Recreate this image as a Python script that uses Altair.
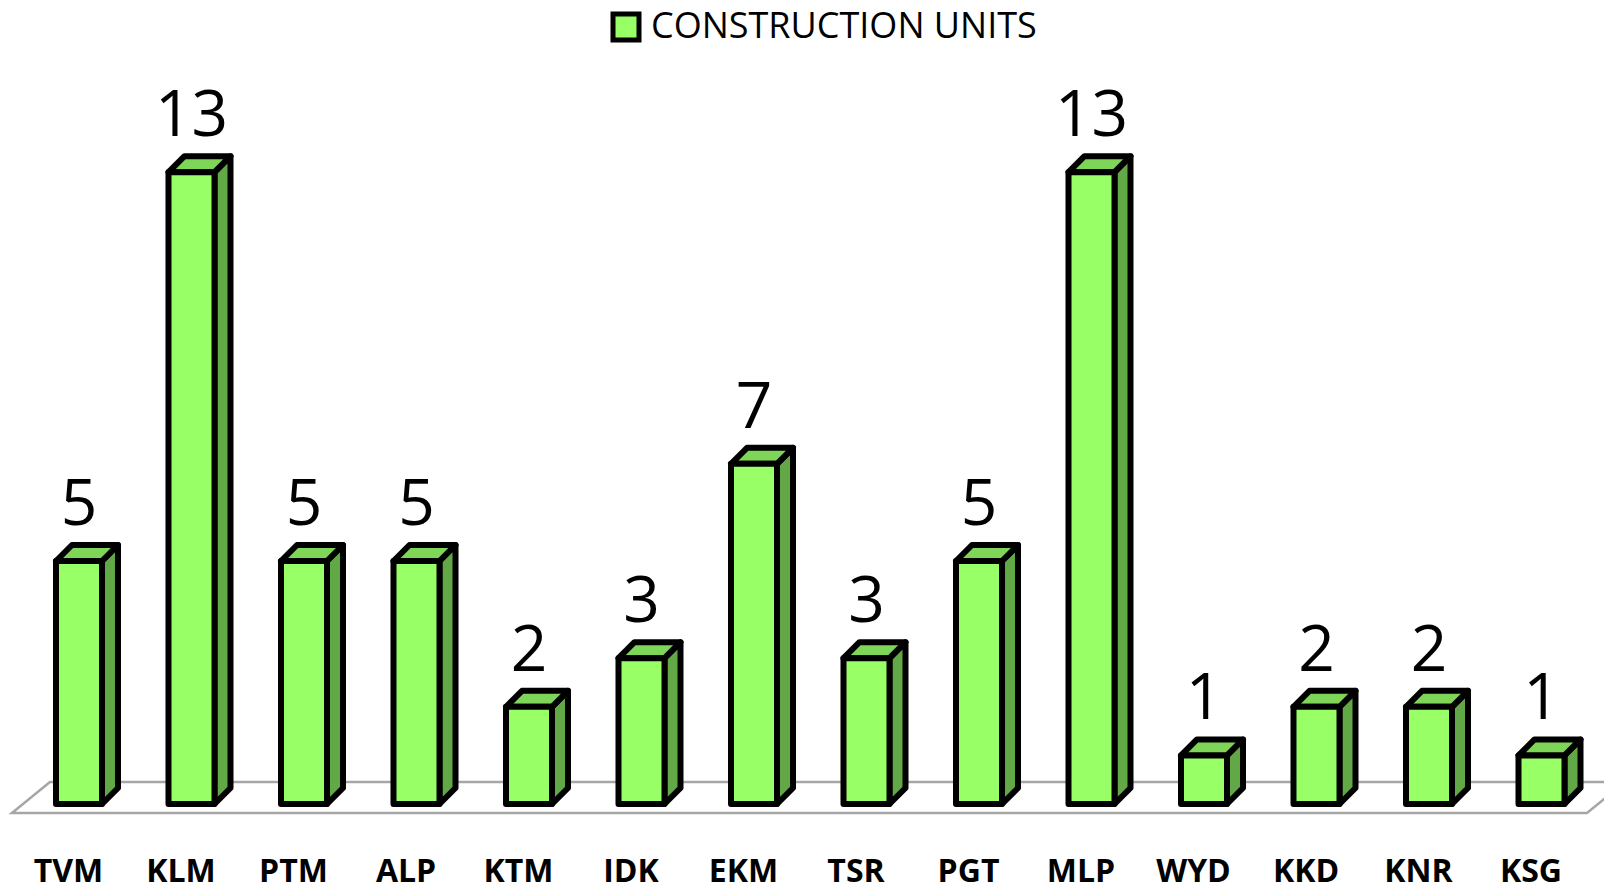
import altair as alt
import pandas as pd

# ---- data ----
categories = ["TVM", "KLM", "PTM", "ALP", "KTM", "IDK", "EKM", "TSR", "PGT", "MLP", "WYD", "KKD", "KNR", "KSG"]
values = [5, 13, 5, 5, 2, 3, 7, 3, 5, 13, 1, 2, 2, 1]
series_name = "CONSTRUCTION UNITS"

# ---- styling / geometry (pixels -> data units) ----
W, H = 1596, 878
PX_CAT = 112.5          # px per category step
PX_UNIT = 48.6          # px per value unit
X0_PX = 71              # plot-x of first category centre
Y0_PX = 796             # plot-y of value 0
n = len(categories)

x_dom = [-X0_PX / PX_CAT, (W - X0_PX) / PX_CAT]
y_dom = [-(H - Y0_PX) / PX_UNIT, Y0_PX / PX_UNIT]

half_w = 23 / PX_CAT
dx = 16 / PX_CAT
dy = 16 / PX_UNIT

FRONT = "#99FF66"
SIDE = "#62A846"
TOP = "#7FD557"
SW = 6

xs = alt.Scale(domain=x_dom, nice=False, zero=False)
ys = alt.Scale(domain=y_dom, nice=False, zero=False)

idx = list(range(n))
label_expr = "[" + ",".join("'%s'" % c for c in categories) + "][datum.value]"
x_axis = alt.Axis(
    values=idx, labelExpr=label_expr, domain=False, ticks=False, tickSize=0, grid=False,
    labelFontSize=32, labelFont="Open Sans", labelFontWeight="bold",
    labelColor="black", labelOffset=-11, labelPadding=-5,
    labelBaseline="alphabetic", labelFlush=False, labelOverlap=False, title=None,
)

front = pd.DataFrame({
    "cat": categories, "i": idx, "v": values, "series": [series_name] * n,
    "x": [i - half_w for i in idx], "x2": [i + half_w for i in idx],
    "y": [0] * n,
})

side_rows = []
top_rows = []
for i, (c, v) in enumerate(zip(categories, values)):
    side_rows.append({"cat": c, "x": i + half_w, "y": 0, "y2": v})
    side_rows.append({"cat": c, "x": i + half_w + dx, "y": dy, "y2": v + dy})
    top_rows.append({"cat": c, "y": v, "x": i - half_w, "x2": i + half_w})
    top_rows.append({"cat": c, "y": v + dy, "x": i - half_w + dx, "x2": i + half_w + dx})
side = pd.DataFrame(side_rows)
top = pd.DataFrame(top_rows)

# floor parallelogram
floor_front = -9 / PX_UNIT
floor_back = 22 / PX_UNIT
slope = 1.226  # px of x per px of y on the floor's slanted edges
left_front = -0.596
right_front = (n - 1) + 0.404
shift = (floor_back - floor_front) * PX_UNIT * slope / PX_CAT
floor = pd.DataFrame({
    "fy": [floor_front, floor_back],
    "fx": [left_front, left_front + shift],
    "fx2": [right_front, right_front + shift],
})

floor_layer = alt.Chart(floor).mark_area(
    orient="horizontal", fillOpacity=0, stroke="#A6A6A6", strokeWidth=2.5, clip=True
).encode(
    y=alt.Y("fy:Q", scale=ys, axis=None, stack=None),
    x=alt.X("fx:Q", scale=xs, axis=x_axis, stack=None),
    x2="fx2:Q",
)

side_layer = alt.Chart(side).mark_area(
    orient="vertical", color=SIDE, fill=SIDE, fillOpacity=1, stroke="black",
    strokeWidth=SW, strokeJoin="round"
).encode(
    x=alt.X("x:Q", scale=xs, axis=x_axis),
    y=alt.Y("y:Q", scale=ys, axis=None, stack=None),
    y2="y2:Q",
    detail="cat:N",
)

top_layer = alt.Chart(top).mark_area(
    orient="horizontal", color=TOP, fill=TOP, fillOpacity=1, stroke="black",
    strokeWidth=SW, strokeJoin="round"
).encode(
    y=alt.Y("y:Q", scale=ys, axis=None),
    x=alt.X("x:Q", scale=xs, axis=x_axis, stack=None),
    x2="x2:Q",
    detail="cat:N",
)

front_layer = alt.Chart(front).mark_rect(
    stroke="black", strokeWidth=SW, strokeJoin="round"
).encode(
    x=alt.X("x:Q", scale=xs, axis=x_axis),
    x2="x2:Q",
    y=alt.Y("y:Q", scale=ys, axis=None),
    y2="v:Q",
    color=alt.Color("series:N", scale=alt.Scale(range=[FRONT]), legend=alt.Legend(
        orient="none", legendX=600, legendY=1, title=None, symbolType="square",
        symbolSize=676, symbolStrokeColor="black", symbolStrokeWidth=5,
        symbolFillColor=FRONT, labelFontSize=36, labelFont="Open Sans",
        labelColor="black", labelOffset=7, padding=0, labelLimit=1000,
    )),
)

text_layer = alt.Chart(front).mark_text(
    fontSize=64, font="Open Sans", color="black", baseline="alphabetic",
    align="center", dy=-36
).encode(
    x=alt.X("i:Q", scale=xs, axis=x_axis),
    y=alt.Y("v:Q", scale=ys, axis=None),
    text="v:Q",
)

chart = alt.layer(floor_layer, side_layer, top_layer, front_layer, text_layer).properties(
    width=W, height=H, padding=0, autosize=alt.AutoSizeParams(type="none"),
    background="white",
).configure_view(stroke=None)

chart.save("out.html", embed_options={"renderer": "svg", "actions": False})
